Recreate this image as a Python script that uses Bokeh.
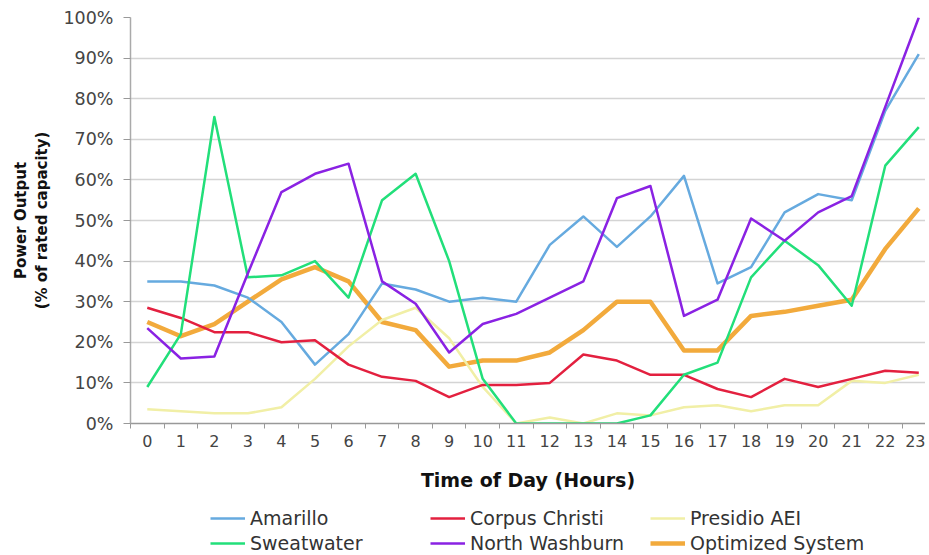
from bokeh.plotting import figure
from bokeh.layouts import column
from bokeh.models import (Range1d, FixedTicker, PrintfTickFormatter, Legend, LegendItem)
from bokeh.embed import file_html
from bokeh.resources import INLINE

hours = list(range(24))
amarillo = [35, 35, 34, 31, 25, 14.5, 22, 34.5, 33, 30, 31, 30, 44, 51, 43.5, 51, 61, 34.5, 38.5, 52, 56.5, 55, 77, 91]
corpus_christi = [28.5, 26, 22.5, 22.5, 20, 20.5, 14.5, 11.5, 10.5, 6.5, 9.5, 9.5, 10, 17, 15.5, 12, 12, 8.5, 6.5, 11, 9, 11, 13, 12.5]
presidio = [3.5, 3, 2.5, 2.5, 4, 11, 19, 25.5, 28.5, 21, 9, 0, 1.5, 0, 2.5, 2, 4, 4.5, 3, 4.5, 4.5, 10.5, 10, 12]
sweatwater = [9, 22, 75.5, 36, 36.5, 40, 31, 55, 61.5, 40, 11, 0, 0, 0, 0, 2, 12, 15, 36, 45, 39, 29, 63.5, 73]
north_washburn = [23.5, 16, 16.5, 37, 57, 61.5, 64, 35, 29.5, 17.5, 24.5, 27, 31, 35, 55.5, 58.5, 26.5, 30.5, 50.5, 45, 52, 56, 78, 100]
optimized = [25, 21.5, 24.5, 30, 35.5, 38.5, 35, 25, 23, 14, 15.5, 15.5, 17.5, 23, 30, 30, 18, 18, 26.5, 27.5, 29, 30.5, 43, 53]
y_ticks = list(range(0, 101, 10))

FONT = "DejaVu Sans"
W = 925

p = figure(width=W, height=498, output_backend="svg", toolbar_location=None,
           x_range=Range1d(-0.5, 23.2), y_range=Range1d(0, 100),
           min_border_left=130, min_border_top=17, min_border_right=0, min_border_bottom=75)
p.outline_line_color = None
p.background_fill_color = "white"
p.border_fill_color = "white"

# grid
p.xgrid.grid_line_color = None
p.ygrid.grid_line_color = "#d4d4d4"
p.ygrid.grid_line_width = 1.5

# x axis
p.xaxis.ticker = FixedTicker(ticks=hours, minor_ticks=[h - 0.5 for h in hours] + [23.5])
p.xaxis.major_tick_line_color = None
p.xaxis.major_tick_out = 5
p.xaxis.minor_tick_line_color = "#999999"
p.xaxis.minor_tick_in = 0
p.xaxis.minor_tick_out = 5
p.xaxis.axis_line_color = "#999999"
p.xaxis.axis_line_width = 1.5
p.xaxis.major_label_text_font = FONT
p.xaxis.major_label_text_font_size = "16px"
p.xaxis.major_label_text_color = "#444444"
p.xaxis.major_label_standoff = 6
p.xaxis.axis_label = "Time of Day (Hours)"
p.xaxis.axis_label_text_font = FONT
p.xaxis.axis_label_text_font_style = "bold"
p.xaxis.axis_label_text_font_size = "19px"
p.xaxis.axis_label_text_color = "#111111"
p.xaxis.axis_label_standoff = 19

# y axis
p.yaxis.ticker = FixedTicker(ticks=y_ticks)
p.yaxis.formatter = PrintfTickFormatter(format="%d%%")
p.yaxis.minor_tick_line_color = None
p.yaxis.major_tick_line_color = "#999999"
p.yaxis.major_tick_in = 0
p.yaxis.major_tick_out = 7
p.yaxis.axis_line_color = "#aaaaaa"
p.yaxis.axis_line_width = 1.5
p.yaxis.major_label_text_font = FONT
p.yaxis.major_label_text_font_size = "17.5px"
p.yaxis.major_label_text_color = "#444444"
p.yaxis.major_label_standoff = 10
p.yaxis.axis_label = "Power Output\n(% of rated capacity)"
p.yaxis.axis_label_text_font = FONT
p.yaxis.axis_label_text_font_style = "bold"
p.yaxis.axis_label_text_font_size = "15px"
p.yaxis.axis_label_text_color = "#111111"
p.yaxis.axis_label_standoff = 9

series = {
    "Amarillo": (amarillo, "#66aadf", 2.5),
    "Corpus Christi": (corpus_christi, "#e3203f", 2.5),
    "Presidio AEI": (presidio, "#f1efa6", 2.5),
    "Sweatwater": (sweatwater, "#22df7a", 2.5),
    "North Washburn": (north_washburn, "#8a22e3", 2.5),
    "Optimized System": (optimized, "#f2aa3c", 4.5),
}

draw_order = ["Optimized System", "Presidio AEI", "Amarillo", "Corpus Christi", "Sweatwater", "North Washburn"]
for name in draw_order:
    vals, col, w = series[name]
    p.line(hours, vals, line_color=col, line_width=w, line_join="round")

# legend panel (separate figure below the chart); its y-range lies outside the data,
# so the key lines only appear as legend glyphs
lf = figure(width=W, height=56, output_backend="svg", toolbar_location=None,
            x_range=Range1d(0, 23), y_range=Range1d(-200, -100),
            min_border_left=0, min_border_right=0, min_border_top=0, min_border_bottom=0)
lf.axis.visible = False
lf.grid.visible = False
lf.outline_line_color = None
lf.background_fill_color = "white"
lf.border_fill_color = "white"

key_renderers = {}
for name, (vals, col, w) in series.items():
    key_renderers[name] = lf.line(hours, vals, line_color=col, line_width=w)

def make_legend(names, loc):
    lg = Legend(items=[LegendItem(label=n, renderers=[key_renderers[n]]) for n in names],
                orientation="horizontal", location=loc)
    lg.label_text_font = FONT
    lg.label_text_font_size = "19px"
    lg.label_text_color = "#333333"
    lg.glyph_width = 35
    lg.glyph_height = 20
    lg.label_standoff = 5
    lg.label_width = 175
    lg.label_height = 20
    lg.spacing = 5
    lg.padding = 0
    lg.margin = 0
    lg.border_line_color = None
    lg.background_fill_alpha = 0
    return lg

lf.add_layout(make_legend(["Amarillo", "Corpus Christi", "Presidio AEI"], (80, 25)))
lf.add_layout(make_legend(["Sweatwater", "North Washburn", "Optimized System"], (80, 0)))

layout = column(p, lf, spacing=0)
open("out.html", "w").write(file_html(layout, INLINE))
